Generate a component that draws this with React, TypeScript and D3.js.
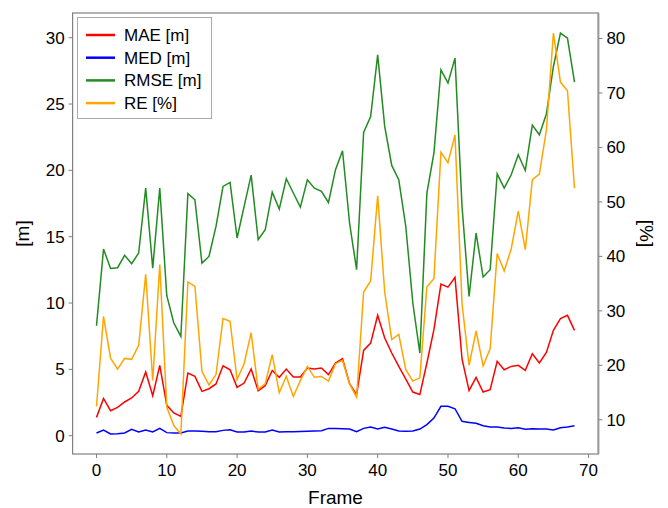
import React from "react";
import * as d3 from "d3";

const frames = d3.range(0, 69);

const mae = [1.38, 2.81, 1.88, 2.13, 2.54, 2.84, 3.34, 4.8, 3.01, 5.3, 2.29, 1.71, 1.46, 4.72, 4.47, 3.34,
  3.54, 3.9, 5.27, 4.97, 3.64, 3.97, 5.02, 3.39, 3.77, 4.92, 4.4, 5.02, 4.42, 4.42, 5.1, 5.02,
  5.1, 4.6, 5.48, 5.8, 3.92, 3.09, 6.43, 6.98, 9.07, 7.36, 6.23, 5.22, 4.27, 3.29, 3.11,
  5.48, 7.99, 11.43, 11.2, 11.93, 5.78, 3.39, 4.4, 3.29, 3.47, 5.6, 4.97, 5.22, 5.3, 4.92, 6.18,
  5.48, 6.28, 7.94, 8.82, 9.07, 7.94];

const med = [0.2, 0.43, 0.13, 0.15, 0.2, 0.48, 0.28, 0.43, 0.28, 0.55, 0.23, 0.2, 0.2, 0.35, 0.35, 0.33,
  0.3, 0.3, 0.4, 0.45, 0.28, 0.27, 0.35, 0.28, 0.28, 0.43, 0.28, 0.3, 0.3, 0.32, 0.33, 0.35,
  0.38, 0.55, 0.55, 0.53, 0.5, 0.3, 0.55, 0.65, 0.5, 0.63, 0.5, 0.35, 0.33, 0.35, 0.5,
  0.83, 1.33, 2.21, 2.21, 2.03, 1.08, 1.0, 0.93, 0.75, 0.65, 0.65, 0.58, 0.55, 0.6, 0.48, 0.53,
  0.5, 0.5, 0.43, 0.6, 0.65, 0.75];

const rmse = [8.29, 14.07, 12.6, 12.66, 13.59, 12.96, 13.77, 18.66, 12.63, 18.66, 10.55, 8.49, 7.48, 18.24, 17.78, 13.01,
  13.51, 15.77, 18.79, 19.09, 14.9, 17.28, 19.64, 14.77, 15.52, 18.36, 17.08, 19.37, 18.29, 17.23, 19.29, 18.66,
  18.41, 17.58, 20.05, 21.48, 16.03, 12.51, 22.86, 24.06, 28.71, 23.31, 20.37, 19.29, 15.77, 10.0, 6.23,
  18.29, 21.3, 27.58, 26.58, 28.46, 17.28, 10.5, 15.27, 11.96, 12.51, 19.74, 18.66, 19.67, 21.18, 19.99, 23.41,
  22.68, 24.24, 27.83, 30.35, 29.97, 26.65];

const re = [12.44, 29.0, 21.3, 19.3, 21.27, 21.1, 23.66, 36.7, 17.2, 38.5, 12.3, 8.95, 7.4, 35.3, 34.5, 18.9,
  16.4, 18.3, 28.6, 28.1, 17.4, 20.3, 26.0, 15.57, 16.6, 21.95, 14.96, 18.0, 14.28, 17.2, 19.8, 17.8,
  17.96, 17.1, 20.3, 20.9, 16.6, 14.15, 33.46, 35.5, 51.1, 33.46, 24.7, 25.7, 19.2, 17.1, 17.7,
  34.4, 35.9, 59.1, 57.2, 62.3, 31.3, 20.0, 26.3, 19.9, 23.05, 40.5, 37.3, 41.4, 48.3, 41.25, 54.1,
  55.1, 63.2, 81.0, 72.0, 70.4, 52.5];

const leftTicks = [0, 5, 10, 15, 20, 25, 30];
const rightTicks = [10, 20, 30, 40, 50, 60, 70, 80];
const xTicks = [0, 10, 20, 30, 40, 50, 60, 70];

const legendItems = [
  { label: "MAE [m]", color: "#ff0000" },
  { label: "MED [m]", color: "#0000ff" },
  { label: "RMSE [m]", color: "#228b22" },
  { label: "RE [%]", color: "#ffa500" },
];

const pad = (lo: number, hi: number) => {
  const m = (hi - lo) * 0.05;
  return [lo - m, hi + m];
};

export default function App() {
  const width = 668;
  const height = 508;
  const left = 72.6, right = 598.4, top = 13, bottom = 454;
  const font = "'Liberation Sans', Arial, sans-serif";
  const axisCol = "#808080";

  const x = d3.scaleLinear().domain(pad(0, 68)).range([left, right]);
  const allM = [...mae, ...med, ...rmse];
  const yL = d3.scaleLinear().domain(pad(d3.min(allM)!, d3.max(allM)!)).range([bottom, top]);
  const yR = d3.scaleLinear().domain(pad(d3.min(re)!, d3.max(re)!)).range([bottom, top]);

  const lineL = d3.line<number>().x((_, i) => x(frames[i])).y((d) => yL(d));
  const lineR = d3.line<number>().x((_, i) => x(frames[i])).y((d) => yR(d));

  return (
    <svg width={width} height={height} style={{ position: "absolute", left: 0, top: 0 }} fontFamily={font}>
      <rect width={width} height={height} fill="white" />
      <path d={lineL(mae)!} fill="none" stroke="#ff0000" strokeWidth={1.5} />
      <path d={lineL(med)!} fill="none" stroke="#0000ff" strokeWidth={1.5} />
      <path d={lineL(rmse)!} fill="none" stroke="#228b22" strokeWidth={1.5} />
      <path d={lineR(re)!} fill="none" stroke="#ffa500" strokeWidth={1.5} />

      <rect x={left} y={top} width={right - left} height={bottom - top} fill="none" stroke={axisCol} strokeWidth={1.2} />
      <line x1={right} x2={right} y1={top} y2={bottom} stroke="#999" strokeWidth={2} />

      {xTicks.map((t) => (
        <g key={"x" + t}>
          <line x1={x(t)} x2={x(t)} y1={bottom} y2={bottom + 4} stroke={axisCol} />
          <text x={x(t)} y={bottom + 22} fontSize={17} textAnchor="middle" fill="#000">{t}</text>
        </g>
      ))}
      {leftTicks.map((t) => (
        <g key={"l" + t}>
          <line x1={left - 4} x2={left} y1={yL(t)} y2={yL(t)} stroke={axisCol} />
          <text x={left - 8} y={yL(t)} dy="0.35em" fontSize={17} textAnchor="end" fill="#000">{t}</text>
        </g>
      ))}
      {rightTicks.map((t) => (
        <g key={"r" + t}>
          <line x1={right} x2={right + 4} y1={yR(t)} y2={yR(t)} stroke={axisCol} />
          <text x={right + 8} y={yR(t)} dy="0.35em" fontSize={17} textAnchor="start" fill="#000">{t}</text>
        </g>
      ))}

      <text x={(left + right) / 2} y={504} fontSize={19} textAnchor="middle" fill="#000">Frame</text>
      <text transform={`translate(29,${(top + bottom) / 2}) rotate(-90)`} fontSize={19} textAnchor="middle" fill="#000">[m]</text>
      <text transform={`translate(640,${(top + bottom) / 2}) rotate(90)`} fontSize={19} textAnchor="middle" fill="#000">[%]</text>

      <g>
        <rect x={77.5} y={17.5} width={134} height={101} fill="white" stroke="#aaa" strokeWidth={1} />
        {legendItems.map((it, i) => {
          const cy = 35 + i * 22.7;
          return (
            <g key={it.label}>
              <line x1={86} x2={115} y1={cy} y2={cy} stroke={it.color} strokeWidth={2.5} />
              <text x={124} y={cy} dy="0.35em" fontSize={17} fill="#000">{it.label}</text>
            </g>
          );
        })}
      </g>
    </svg>
  );
}
